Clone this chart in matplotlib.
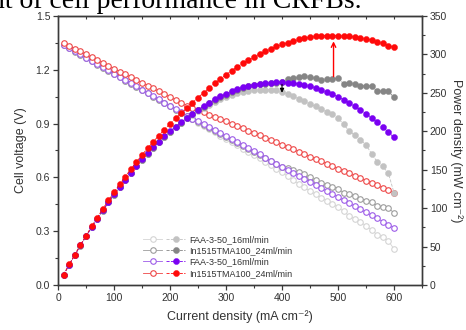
import matplotlib
matplotlib.use("Agg")
import matplotlib.pyplot as plt
from matplotlib.ticker import FixedLocator, MultipleLocator
from matplotlib.legend_handler import HandlerTuple

plt.rcParams['font.family'] = ['Liberation Sans', 'DejaVu Sans']

# ---------------- data ----------------
current = [10, 20, 30, 40, 50, 60, 70, 80, 90, 100,
           110, 120, 130, 140, 150, 160, 170, 180, 190, 200,
           210, 220, 230, 240, 250, 260, 270, 280, 290, 300,
           310, 320, 330, 340, 350, 360, 370, 380, 390, 400,
           410, 420, 430, 440, 450, 460, 470, 480, 490, 500,
           510, 520, 530, 540, 550, 560, 570, 580, 590, 600]

labels = ["FAA-3-50_16ml/min", "In1515TMA100_24ml/min",
          "FAA-3-50_16ml/min", "In1515TMA100_24ml/min"]

# cell voltage (V)
v_lightgray = [1.340, 1.321, 1.302, 1.284, 1.266, 1.248, 1.230, 1.212, 1.194, 1.176,
               1.158, 1.140, 1.122, 1.104, 1.086, 1.068, 1.050, 1.032, 1.014, 0.996,
               0.978, 0.960, 0.942, 0.924, 0.906, 0.888, 0.869, 0.851, 0.833, 0.815,
               0.797, 0.779, 0.761, 0.743, 0.725, 0.706, 0.687, 0.668, 0.649, 0.628,
               0.607, 0.585, 0.564, 0.544, 0.524, 0.505, 0.487, 0.470, 0.453, 0.434,
               0.410, 0.385, 0.368, 0.350, 0.331, 0.305, 0.281, 0.266, 0.246, 0.200]
v_darkgray = [1.337, 1.319, 1.301, 1.283, 1.265, 1.247, 1.229, 1.211, 1.193, 1.176,
              1.158, 1.140, 1.122, 1.104, 1.086, 1.068, 1.050, 1.032, 1.014, 0.996,
              0.978, 0.960, 0.942, 0.925, 0.909, 0.892, 0.876, 0.859, 0.843, 0.826,
              0.810, 0.794, 0.777, 0.760, 0.742, 0.725, 0.707, 0.690, 0.674, 0.660,
              0.654, 0.640, 0.628, 0.617, 0.600, 0.585, 0.568, 0.557, 0.547, 0.538,
              0.514, 0.506, 0.494, 0.480, 0.471, 0.462, 0.442, 0.434, 0.427, 0.403]
v_purple = [1.340, 1.322, 1.304, 1.286, 1.268, 1.250, 1.232, 1.214, 1.196, 1.179,
            1.161, 1.143, 1.125, 1.107, 1.089, 1.071, 1.053, 1.035, 1.017, 0.999,
            0.981, 0.963, 0.945, 0.928, 0.912, 0.895, 0.879, 0.862, 0.846, 0.829,
            0.813, 0.797, 0.780, 0.763, 0.745, 0.728, 0.710, 0.693, 0.676, 0.659,
            0.642, 0.625, 0.608, 0.591, 0.575, 0.558, 0.541, 0.524, 0.507, 0.490,
            0.473, 0.456, 0.439, 0.422, 0.405, 0.388, 0.371, 0.354, 0.337, 0.320]
v_red = [1.350, 1.334, 1.318, 1.302, 1.286, 1.270, 1.254, 1.238, 1.222, 1.206,
         1.190, 1.175, 1.159, 1.143, 1.128, 1.112, 1.096, 1.080, 1.064, 1.048,
         1.032, 1.016, 1.000, 0.987, 0.975, 0.962, 0.949, 0.937, 0.924, 0.912,
         0.899, 0.887, 0.874, 0.861, 0.848, 0.835, 0.822, 0.809, 0.796, 0.783,
         0.769, 0.756, 0.743, 0.730, 0.716, 0.703, 0.690, 0.676, 0.662, 0.649,
         0.636, 0.622, 0.609, 0.595, 0.582, 0.569, 0.555, 0.542, 0.528, 0.515]

# power density (mW cm-2)
p_lightgray = [13.4, 26.4, 39.1, 51.4, 63.3, 74.9, 86.1, 97.0, 107.5, 117.6,
               127.4, 136.8, 145.9, 154.6, 162.9, 170.9, 178.5, 185.8, 192.7, 199.2,
               205.4, 211.2, 216.7, 221.8, 226.5, 230.9, 234.6, 238.3, 241.6, 244.5,
               247.1, 249.3, 251.1, 252.6, 253.8, 254.2, 254.2, 253.8, 253.1, 251.2,
               248.9, 245.7, 242.5, 239.4, 235.8, 232.3, 228.9, 225.6, 222.0, 217.0,
               209.1, 200.2, 195.0, 189.0, 182.1, 170.8, 160.2, 154.3, 145.1, 120.0]
p_darkgray = [13.4, 26.4, 39.0, 51.3, 63.3, 74.8, 86.0, 96.9, 107.4, 117.6,
              127.4, 136.8, 145.9, 154.6, 162.9, 170.9, 178.5, 185.8, 192.7, 199.2,
              205.4, 211.2, 216.7, 222.0, 227.3, 231.9, 236.5, 240.5, 244.5, 247.8,
              251.1, 254.1, 256.4, 258.4, 259.7, 261.0, 261.6, 262.2, 262.9, 264.0,
              268.0, 269.0, 270.0, 271.5, 270.0, 269.0, 267.0, 267.5, 268.0, 269.0,
              262.0, 263.0, 262.0, 259.0, 259.0, 259.0, 252.0, 252.0, 252.0, 244.0]
p_purple = [13.4, 26.4, 39.1, 51.4, 63.4, 75.0, 86.2, 97.1, 107.6, 117.9,
            127.7, 137.2, 146.3, 155.0, 163.4, 171.4, 179.0, 186.3, 193.2, 199.8,
            206.0, 211.9, 217.4, 222.7, 228.0, 232.7, 237.3, 241.4, 245.3, 248.7,
            252.0, 255.0, 257.4, 259.4, 260.8, 262.1, 262.7, 263.3, 263.6, 263.6,
            263.2, 262.5, 261.4, 260.0, 258.8, 256.7, 254.3, 251.5, 248.4, 245.0,
            241.2, 237.1, 232.7, 227.9, 222.8, 217.3, 211.5, 205.3, 198.8, 192.0]
p_red = [13.5, 26.7, 39.5, 52.1, 64.3, 76.2, 87.8, 99.0, 110.0, 120.6,
         130.9, 141.0, 150.7, 160.0, 169.2, 177.9, 186.3, 194.4, 202.2, 209.6,
         216.7, 223.5, 230.0, 236.9, 243.8, 250.1, 256.2, 262.4, 268.0, 273.6,
         278.7, 283.8, 288.4, 292.7, 296.8, 300.6, 304.1, 307.4, 310.4, 313.2,
         315.3, 317.5, 319.5, 321.2, 322.2, 323.4, 324.3, 324.5, 324.4, 324.5,
         324.4, 323.4, 322.8, 321.3, 320.1, 318.6, 316.4, 314.4, 311.5, 309.0]

x_ticks = [0, 100, 200, 300, 400, 500, 600]
v_ticks = [0.0, 0.3, 0.6, 0.9, 1.2, 1.5]
p_ticks = [0, 50, 100, 150, 200, 250, 300, 350]

volt_series = [v_lightgray, v_darkgray, v_purple, v_red]
power_series = [p_lightgray, p_darkgray, p_purple, p_red]
open_colors = ['#d4d4d4', '#9c9c9c', '#9d5ce8', '#ee4646']
fill_colors = ['#c2c2c2', '#858585', '#7a00f2', '#ff0a0a']

# ---------------- figure ----------------
fig = plt.figure(figsize=(4.66, 3.30), dpi=100)
ax = fig.add_axes([0.1245, 0.1364, 0.7811, 0.8152])
ax2 = ax.twinx()

spine_c = '#3a3a3a'
text_c = '#333333'

open_handles = []
fill_handles = []
for v, c in zip(volt_series, open_colors):
    h, = ax.plot(current, v, '-', color=c, lw=0.6, marker='o', ms=4.0,
                 mfc='white', mec=c, mew=0.8)
    open_handles.append(h)
for p, c in zip(power_series, fill_colors):
    h, = ax2.plot(current, p, '--', color=c, lw=0.6, marker='o', ms=4.4,
                  mfc=c, mec=c, mew=0.3)
    fill_handles.append(h)

ax.set_xlim(0, 650)
ax.set_ylim(0, 1.5)
ax2.set_ylim(0, 350)

ax.xaxis.set_major_locator(FixedLocator(x_ticks))
ax.xaxis.set_minor_locator(MultipleLocator(50))
ax.yaxis.set_major_locator(FixedLocator(v_ticks))
ax.yaxis.set_minor_locator(MultipleLocator(0.15))
ax2.yaxis.set_major_locator(FixedLocator(p_ticks))
ax2.yaxis.set_minor_locator(MultipleLocator(25))
ax.set_yticklabels([f"{t:.1f}" for t in v_ticks])

for a in (ax, ax2):
    for s in a.spines.values():
        s.set_color(spine_c)
        s.set_linewidth(1.0)
ax.tick_params(axis='both', which='major', direction='out', length=3.6, width=0.9,
               color=spine_c, labelsize=7.5, labelcolor=text_c, pad=2)
ax.tick_params(axis='both', which='minor', direction='out', length=2.2, width=0.8,
               color=spine_c)
ax2.tick_params(axis='y', which='major', direction='out', length=3.6, width=0.9,
                color=spine_c, labelsize=7.5, labelcolor=text_c, pad=2)
ax2.tick_params(axis='y', which='minor', direction='out', length=2.2, width=0.8,
                color=spine_c)

top = ax.secondary_xaxis('top')
top.xaxis.set_major_locator(FixedLocator(x_ticks))
top.xaxis.set_minor_locator(MultipleLocator(50))
top.tick_params(which='both', direction='in', length=2.4, width=0.8,
                color=spine_c, labeltop=False)
top.spines['top'].set_color(spine_c)

ax.set_xlabel("Current density (mA cm⁻²)", fontsize=9, color=text_c, labelpad=5)
ax.set_ylabel("Cell voltage (V)", fontsize=9, color=text_c, labelpad=6)
ax2.set_ylabel("Power density (mW cm⁻²)", fontsize=9, color=text_c,
               rotation=-90, labelpad=11)

# arrows
ax2.annotate('', xy=(492, 317), xytext=(492, 271),
             arrowprops=dict(arrowstyle='->', color='#ff0000', lw=1.0,
                             mutation_scale=8, shrinkA=0, shrinkB=0))
ax2.annotate('', xy=(400, 250), xytext=(400, 261),
             arrowprops=dict(arrowstyle='-|>', color='black', lw=0.8,
                             mutation_scale=6, shrinkA=0, shrinkB=0))

# legend
handles = list(zip(open_handles, fill_handles))
leg = ax2.legend(handles, labels, loc='lower left', bbox_to_anchor=(0.215, 0.0),
                 handler_map={tuple: HandlerTuple(ndivide=None, pad=0.4)},
                 frameon=False, fontsize=6.5, labelspacing=0.25,
                 handlelength=4.6, handletextpad=0.5, borderpad=0.3)
for t in leg.get_texts():
    t.set_color(text_c)

# cropped caption at top
fig.text(362 / 466, 1 - 8 / 330, "nt of cell performance in CRFBs.",
         ha='right', va='baseline', fontsize=20, family='Liberation Serif',
         color='black')

fig.savefig("out.png", dpi=100)
